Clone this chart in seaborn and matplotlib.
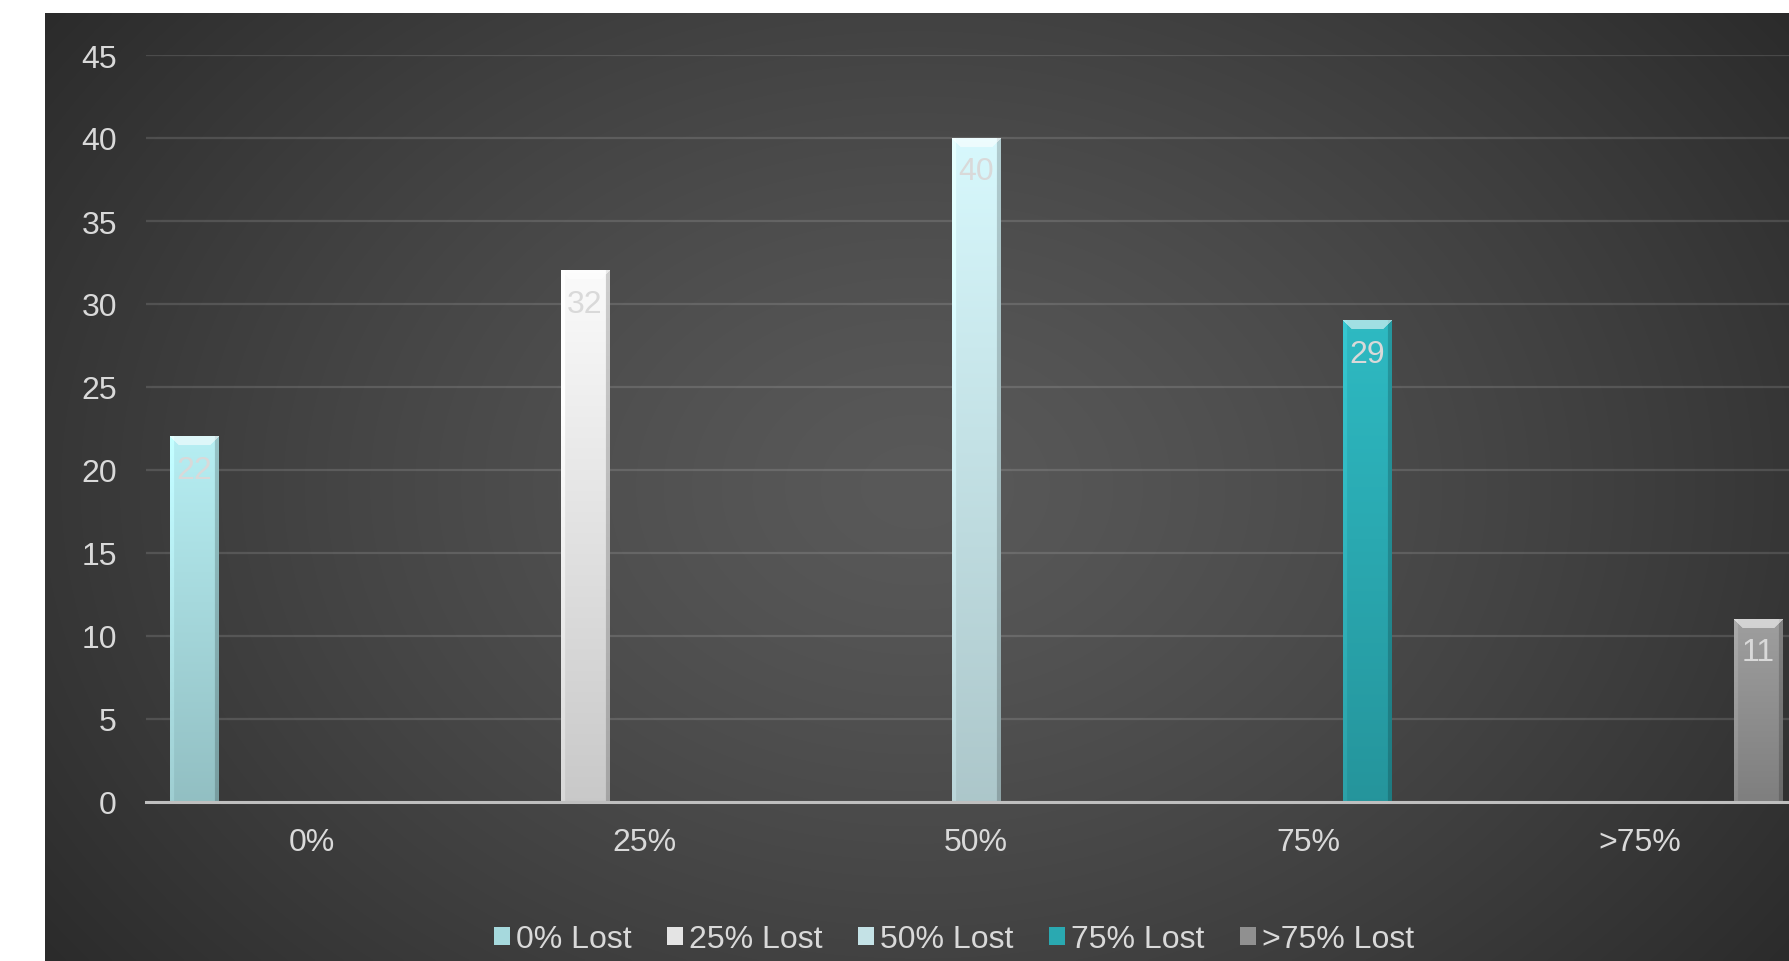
import numpy as np
import pandas as pd
import matplotlib
matplotlib.use("Agg")
import matplotlib.pyplot as plt
import seaborn as sns
from matplotlib.colors import to_rgb

# ---- data ----
categories = ["0%", "25%", "50%", "75%", ">75%"]
series = ["0% Lost", "25% Lost", "50% Lost", "75% Lost", ">75% Lost"]
values = [22, 32, 40, 29, 11]          # value of series i in category i
colors = ["#A6D9DD", "#E4E4E4", "#C4E2E6", "#2AA9B1", "#909090"]
y_ticks = [0, 5, 10, 15, 20, 25, 30, 35, 40, 45]

rows = []
for i, c in enumerate(categories):
    for j, s in enumerate(series):
        rows.append({"cat": c, "series": s, "val": values[i] if i == j else 0})
df = pd.DataFrame(rows)

sns.set_theme(style="white")
plt.rcParams["font.family"] = ["Liberation Sans", "DejaVu Sans"]

W, H = 1790, 962
FS = 23
fig = plt.figure(figsize=(W / 100, H / 100), dpi=100, facecolor="white")

# background panel with radial gradient
bg = fig.add_axes([45 / W, 0, 1 - 45 / W, 1 - 14 / H], zorder=0)
gy, gx = np.mgrid[0:1:400j, 0:1:700j]
r = np.sqrt(((gx - 0.5) / 0.62) ** 2 + ((gy - 0.5) / 0.85) ** 2)
r = np.clip(r, 0, 1)
lum = (89 - 46 * r ** 1.3) / 255.0
bg.imshow(np.dstack([lum, lum, lum]), extent=(0, 1, 0, 1), aspect="auto",
          interpolation="bilinear")
bg.set_axis_off()

ax = fig.add_axes([146 / W, 159 / H, 1660 / W, 747 / H], zorder=1)
ax.set_facecolor("none")

sns.barplot(data=df, x="cat", y="val", hue="series", order=categories,
            hue_order=series, palette=colors, width=0.889, gap=0.185,
            dodge=True, errorbar=None, saturation=1, linewidth=0, ax=ax)

ax.set_xlim(-0.5, 4.5)
ax.set_ylim(0, 45)
ax.set_yticks(y_ticks)
ax.set_axisbelow(True)
ax.yaxis.grid(True, color="#ffffff", alpha=0.13, linewidth=1.6)
ax.xaxis.grid(False)
for s in ["top", "left", "right"]:
    ax.spines[s].set_visible(False)
ax.spines["bottom"].set_color("#BFBFBF")
ax.spines["bottom"].set_linewidth(2.2)
ax.spines["bottom"].set_zorder(6)
ax.tick_params(axis="both", length=0, colors="#D9D9D9", labelsize=FS)
ax.tick_params(axis="x", pad=18)
ax.tick_params(axis="y", pad=21)
ax.set_xlabel("")
ax.set_ylabel("")

# bevelled gradient fill on each bar, derived from the bar patches
for cont, col in zip(ax.containers, colors):
    base = np.array(to_rgb(col))
    for p in cont.patches:
        h = p.get_height()
        if h <= 0:
            continue
        x0, w = p.get_x(), p.get_width()
        (px0, py0), (px1, py1) = ax.transData.transform([(x0, 0), (x0 + w, h)])
        wp, hp = max(int(round(px1 - px0)), 2), max(int(round(py1 - py0)), 2)
        rr, cc = np.mgrid[0:hp, 0:wp]
        t = rr / max(hp - 1, 1)
        fac = 1.10 - 0.22 * t
        img = np.clip(base[None, None, :] * fac[..., None], 0, 1)
        b = 9
        left = (cc < 4)
        right = (cc >= wp - 4)
        img[left] = np.clip(img[left] * 1.05 + 0.02, 0, 1)
        img[right] = img[right] * 0.82
        top = (rr < b) & (cc >= rr) & (cc < wp - rr)
        img[top] = img[top] * 0.45 + 0.55
        ax.imshow(img, extent=(x0, x0 + w, 0, h), aspect="auto", zorder=3,
                  interpolation="bilinear")
        ax.annotate(f"{int(h)}", (x0 + w / 2, h), xytext=(0, -13),
                    textcoords="offset points", ha="center", va="top",
                    color="#D9D9D9", fontsize=FS, zorder=5)

ax.set_xlim(-0.5, 4.5)
ax.set_ylim(0, 45)

handles, labels = ax.get_legend_handles_labels()
if ax.legend_ is not None:
    ax.legend_.remove()
fig.legend(handles, labels, loc="center", bbox_to_anchor=(954 / W, 1 - 940 / H),
           ncol=5, frameon=False, fontsize=FS, labelcolor="#D9D9D9",
           handlelength=0.5, handleheight=0.5, handletextpad=0.2,
           columnspacing=1.1)

fig.savefig("out.png", dpi=100, facecolor="white")
